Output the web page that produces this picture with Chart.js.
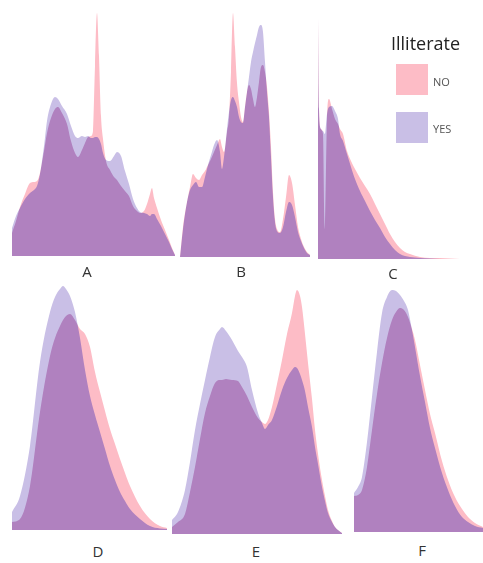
<!DOCTYPE html>
<html>
<head>
<meta charset="utf-8">
<script src="https://cdn.jsdelivr.net/npm/chart.js@4.4.1/dist/chart.umd.min.js"></script>
<style>
  body { margin: 0; background: #fff; width: 483px; height: 563px; position: relative; overflow: hidden; font-family: 'Open Sans', sans-serif; }
  canvas { position: absolute; }
  .lbl { position: absolute; transform: translate(-50%, -50%); font-size: 15px; color: #333; }
  .legend-title { position: absolute; left: 391px; top: 31px; font-size: 18px; color: #222; }
  .swatch { position: absolute; width: 32px; height: 31px; }
  .legend-text { position: absolute; font-size: 11px; color: #555; transform: translateY(-50%); }
</style>
</head>
<body>
<canvas id="chartA" width="163" height="250" style="left:12px;top:6px"></canvas>
<canvas id="chartB" width="130" height="250" style="left:180px;top:7px"></canvas>
<canvas id="chartC" width="165" height="250" style="left:318px;top:9px"></canvas>
<canvas id="chartD" width="155" height="250" style="left:12px;top:280px"></canvas>
<canvas id="chartE" width="170" height="250" style="left:172px;top:284px"></canvas>
<canvas id="chartF" width="129" height="250" style="left:354px;top:282px"></canvas>

<div class="lbl" style="left:87px;top:271px">A</div>
<div class="lbl" style="left:241px;top:271px">B</div>
<div class="lbl" style="left:393px;top:273px">C</div>
<div class="lbl" style="left:98px;top:551px">D</div>
<div class="lbl" style="left:256px;top:551px">E</div>
<div class="lbl" style="left:422px;top:550px">F</div>

<div class="legend-title">Illiterate</div>
<div class="swatch" style="left:396px;top:64px;background:#fdbcc6"></div>
<div class="legend-text" style="left:433px;top:81px">NO</div>
<div class="swatch" style="left:396px;top:112px;background:#c9bfe6"></div>
<div class="legend-text" style="left:433px;top:128px">YES</div>

<script>
// colours: NO alone, YES alone, and where both overlap
const pinkNo = '#fdbcc6';
const purpleYes = '#c9bfe6';
const bothColor = '#b081bf';

// panel A
const aX = [0,4,8,13,18,22,25,28,32,35,39,43,46,50,55,59,63,66,70,73,76,79,81,83,85,87,89,91,94,98,102,105,109,113,117,121,125,128,132,135,138,140,142,145,149,153,157,160,163];
const aNo = [23,35,49,62,73,74,75,83,105,123,138,147,149,143,132,115,103,99,106,113,119,120,125,190,243,200,140,117,95,86,79,76,70,65,60,50,45,43,45,52,62,68,58,48,36,26,16,8,1];
const aYes = [28,40,48,57,63,66,70,82,110,135,152,159,157,150,142,130,120,118,120,119,120,118,118,119,119,117,112,103,96,95,100,104,100,85,72,57,48,44,43,42,40,42,42,37,30,22,14,7,1];

// panel B
const bX = [0,3,7,10,13,16,19,22,25,28,31,34,37,40,42,44,47,49,51,53,55,57,59,61,63,65,67,69,71,73,75,77,79,81,83,85,87,89,91,93,95,97,100,103,106,109,112,115,118,121,124,127,130];
const bNo = [0,30,55,70,83,79,77,82,86,92,98,105,112,118,110,105,125,140,185,244,210,174,155,140,135,150,165,172,168,158,150,160,175,190,192,185,170,145,110,65,38,28,25,38,60,82,74,52,30,18,10,5,2];
const bYes = [0,28,55,67,72,75,70,70,80,92,102,112,117,105,88,100,128,145,157,160,156,150,140,135,134,150,165,180,195,205,214,222,230,232,225,195,165,140,100,60,35,26,24,30,45,55,52,40,25,16,9,4,2];

// panel C
const cX = [0,1,3,5,7,9,11,14,17,20,22,25,29,33,37,42,47,52,57,62,67,72,77,82,87,92,102,112,122,132,142,152,165];
const cNo = [241,150,130,125,30,140,160,150,140,135,130,125,108,98,90,81,73,65,55,45,35,25,17,11,7,5,2,1,1,0.5,0,0,0];
const cYes = [241,150,130,128,125,145,152,153,148,140,125,118,105,92,80,68,58,48,39,31,22,15,9,5,3,2,1,0.5,0,0,0,0,0];

// panel D
const dX = [0,8,18,28,38,43,48,51,54,58,63,68,73,78,83,88,93,98,103,108,113,118,128,138,148,155];
const dNo = [8,11,44,118,174,192,204,210,214,216,210,201,196,183,158,138,119,101,86,71,57,44,24,11,4,2];
const dYes = [18,34,84,168,218,233,241,244,241,234,218,192,160,134,115,98,81,64,50,38,29,21,11,4,1.5,1];

// panel E
const eX = [0,6,13,18,23,28,33,38,43,48,50,54,60,66,70,75,80,86,90,93,96,100,105,110,115,120,123,125,128,130,133,136,140,143,146,150,153,156,160,163,170];
const eNo = [7,12,20,42,67,95,121,138,151,154,154,155,154,153,147,138,127,116,112,110,114,127,150,174,200,221,238,244,238,227,200,171,135,104,80,54,38,24,13,7,1];
const eYes = [14,22,44,72,104,130,154,177,197,205,207,203,194,183,177,167,144,121,111,105,109,114,128,144,156,164,167,166,160,154,143,127,107,87,70,47,33,21,12,7,1];

// panel F
const fX = [0,4,8,13,18,23,28,33,38,42,46,50,54,58,61,66,71,76,81,88,94,101,108,114,121,129];
const fNo = [36,37,42,65,102,138,169,194,212,220,224,222,215,203,192,167,142,118,99,71,52,35,23,15,9,5];
const fYes = [39,45,55,90,135,180,219,235,242,241,237,231,222,202,185,156,130,104,84,59,42,26,15,10,6,4];

// datasets are drawn last index first: NO, then YES over NO only (overlap), then YES behind everything
const overlapPlugin = {
  id: 'overlap',
  beforeDatasetsDraw(chart) {
    chart.ctx.save();
    chart.ctx.globalCompositeOperation = 'source-over';
  },
  afterDatasetDraw(chart, args) {
    if (args.index === 2) chart.ctx.globalCompositeOperation = 'source-atop';
    if (args.index === 1) chart.ctx.globalCompositeOperation = 'destination-over';
  },
  afterDatasetsDraw(chart) {
    chart.ctx.restore();
  }
};

function toPoints(xs, ys) {
  return xs.map((x, i) => ({ x: x, y: ys[i] }));
}

function area(label, pts, color) {
  return { label: label, data: pts, fill: 'origin', backgroundColor: color, borderWidth: 0, pointRadius: 0, cubicInterpolationMode: 'monotone' };
}

function makePanel(id, xs, no, yes) {
  const yesPts = toPoints(xs, yes);
  return new Chart(document.getElementById(id), {
    type: 'line',
    data: {
      datasets: [
        area('YES', yesPts, purpleYes),
        area('YES', yesPts, bothColor),
        area('NO', toPoints(xs, no), pinkNo)
      ]
    },
    options: {
      responsive: false,
      animation: false,
      layout: { padding: 0 },
      plugins: { legend: { display: false }, tooltip: { enabled: false } },
      scales: {
        x: { type: 'linear', display: false, min: xs[0], max: xs[xs.length - 1] },
        y: { display: false, min: 0, max: 250 }
      }
    },
    plugins: [overlapPlugin]
  });
}

makePanel('chartA', aX, aNo, aYes);
makePanel('chartB', bX, bNo, bYes);
makePanel('chartC', cX, cNo, cYes);
makePanel('chartD', dX, dNo, dYes);
makePanel('chartE', eX, eNo, eYes);
makePanel('chartF', fX, fNo, fYes);
</script>
</body>
</html>
